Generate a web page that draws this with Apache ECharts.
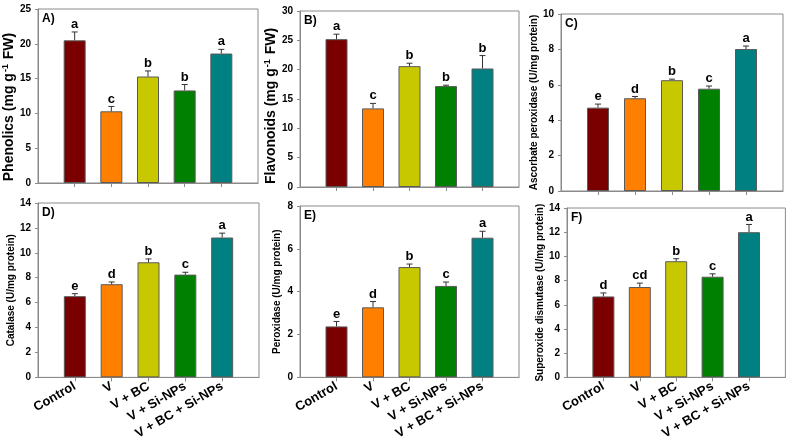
<!DOCTYPE html>
<html><head><meta charset="utf-8">
<script src="https://cdn.jsdelivr.net/npm/echarts@6/dist/echarts.min.js"></script>
<style>html,body{margin:0;padding:0;background:#fff}#c{width:788px;height:442px}</style>
</head><body><div id="c"></div>
<script>
var categories = ['Control', 'V', 'V + BC', 'V + Si-NPs', 'V + BC + Si-NPs'];
var colors = ['#7A0000', '#FF8000', '#C8C800', '#008000', '#008080'];

var phenolics = [20.5, 10.3, 15.3, 13.3, 18.6];
var phenolicsErr = [1.2, 0.7, 0.8, 0.85, 0.6];
var phenolicsLetters = ['a', 'c', 'b', 'b', 'a'];

var flavonoids = [25.2, 13.4, 20.6, 17.2, 20.2];
var flavonoidsErr = [0.85, 0.85, 0.5, 0.15, 2.2];
var flavonoidsLetters = ['a', 'c', 'b', 'b', 'b'];

var apx = [4.71, 5.24, 6.26, 5.78, 8.02];
var apxErr = [0.2, 0.1, 0.06, 0.15, 0.17];
var apxLetters = ['e', 'd', 'b', 'c', 'a'];

var catalase = [6.52, 7.48, 9.24, 8.25, 11.23];
var catalaseErr = [0.2, 0.18, 0.27, 0.19, 0.35];
var catalaseLetters = ['e', 'd', 'b', 'c', 'a'];

var peroxidase = [2.38, 3.27, 5.15, 4.27, 6.52];
var peroxidaseErr = [0.23, 0.27, 0.14, 0.18, 0.3];
var peroxidaseLetters = ['e', 'd', 'b', 'c', 'a'];

var sod = [6.69, 7.47, 9.6, 8.32, 12.0];
var sodErr = [0.29, 0.32, 0.21, 0.24, 0.64];
var sodLetters = ['d', 'cd', 'b', 'c', 'a'];

var panels = [
  {tag:'A)', vals:phenolics, err:phenolicsErr, letters:phenolicsLetters, max:25, interval:5,
   name:'{t|Phenolics (mg g}{s|-1}{t| FW)}', big:true, shift:22, gap:17, rect:[38,9,220,174], xlab:false},
  {tag:'B)', vals:flavonoids, err:flavonoidsErr, letters:flavonoidsLetters, max:30, interval:5,
   name:'{t|Flavonoids (mg g}{s|-1}{t| FW)}', big:true, shift:14, gap:19, rect:[300,11,219,176], xlab:false},
  {tag:'C)', vals:apx, err:apxErr, letters:apxLetters, max:10, interval:2,
   name:'Ascorbate peroxidase (U/mg protein)', big:false, shift:0, gap:13, rect:[561,14,222,177], xlab:false},
  {tag:'D)', vals:catalase, err:catalaseErr, letters:catalaseLetters, max:14, interval:2,
   name:'Catalase (U/mg protein)', big:false, shift:0, gap:22, rect:[38,203,221,176], xlab:true},
  {tag:'E)', vals:peroxidase, err:peroxidaseErr, letters:peroxidaseLetters, max:8, interval:2,
   name:'Peroxidase (U/mg protein)', big:false, shift:0, gap:18, rect:[300,206,219,176], xlab:true},
  {tag:'F)', vals:sod, err:sodErr, letters:sodLetters, max:14, interval:2,
   name:'Superoxide dismutase (U/mg protein)', big:false, shift:0, gap:21, rect:[567,208,220,175], xlab:true}
];

var axisCats = [''].concat(categories).concat(['']);
var grid = [], xAxis = [], yAxis = [], series = [], graphic = [];
panels.forEach(function(p, i){
  var r = p.rect;
  grid.push({left:r[0], top:r[1], width:r[2], height:r[3], show:true, borderColor:'#8a8a8a', borderWidth:1, containLabel:false});
  xAxis.push({type:'category', gridIndex:i, data:axisCats, boundaryGap:false,
    axisLine:{lineStyle:{color:'#8a8a8a'}},
    axisTick:{show:true, length:4, lineStyle:{color:'#8a8a8a'}, interval:function(idx){return idx>0 && idx<6;}},
    axisLabel:{show:p.xlab, interval:0, rotate:30, margin:8, fontFamily:'Arial, Liberation Sans', fontWeight:'bold', fontSize:13, color:'#000'},
    splitLine:{show:false}});
  yAxis.push({type:'value', gridIndex:i, min:0, max:p.max, interval:p.interval,
    axisLine:{show:true, lineStyle:{color:'#8a8a8a'}},
    axisTick:{show:true, length:3, lineStyle:{color:'#8a8a8a'}},
    axisLabel:{margin:7, fontFamily:'Arial, Liberation Sans', fontWeight:'bold', fontSize:10, color:'#000'},
    splitLine:{show:false},
    name:p.name, nameLocation:'middle', nameGap:p.gap, nameRotate:90,
    nameTextStyle: p.big ? {fontFamily:'Arial, Liberation Sans', fontWeight:'bold', fontSize:14, color:'#000', padding:[0,p.shift,0,0],
      rich:{t:{fontFamily:'Arial, Liberation Sans', fontWeight:'bold', fontSize:14, color:'#000'},
            s:{fontFamily:'Arial, Liberation Sans', fontWeight:'bold', fontSize:9, color:'#000', verticalAlign:'top', padding:[0,1,6,1]}}}
      : {fontFamily:'Arial, Liberation Sans', fontWeight:'bold', fontSize:10, color:'#000'}
  });
  var barData = [null].concat(p.vals.map(function(v, k){
    return {value:v, itemStyle:{color:colors[k]}};
  })).concat([null]);
  series.push({type:'bar', xAxisIndex:i, yAxisIndex:i, data:barData, barWidth:22,
    itemStyle:{borderColor:'#5a5a5a', borderWidth:1}, silent:true, z:2});
  var errData = p.vals.map(function(v, k){ return [k+1, v, p.err[k]]; });
  (function(letters){
    series.push({type:'custom', xAxisIndex:i, yAxisIndex:i, data:errData, z:5, silent:true,
      renderItem:function(params, api){
        var x = api.value(0), v = api.value(1), e = api.value(2);
        var b = api.coord([x, v]), t = api.coord([x, v+e]);
        return {type:'group', children:[
          {type:'line', shape:{x1:b[0], y1:b[1], x2:b[0], y2:t[1]}, style:{stroke:'#333', lineWidth:1}},
          {type:'line', shape:{x1:b[0]-3, y1:t[1], x2:b[0]+3, y2:t[1]}, style:{stroke:'#333', lineWidth:1}},
          {type:'text', x:b[0], y:t[1]-1, style:{text:letters[params.dataIndex], textAlign:'center', textVerticalAlign:'bottom',
            font:'bold 13px Arial, Liberation Sans', fill:'#000'}}
        ]};
      }});
  })(p.letters);
  graphic.push({type:'text', left:r[0]+4, top:r[1]+4, style:{text:p.tag, font:'bold 12px Arial, Liberation Sans', fill:'#000'}});
});

var chart = echarts.init(document.getElementById('c'), null, {renderer:'canvas'});
chart.setOption({animation:false, backgroundColor:'#fff', grid:grid, xAxis:xAxis, yAxis:yAxis, series:series, graphic:graphic});
</script></body></html>
